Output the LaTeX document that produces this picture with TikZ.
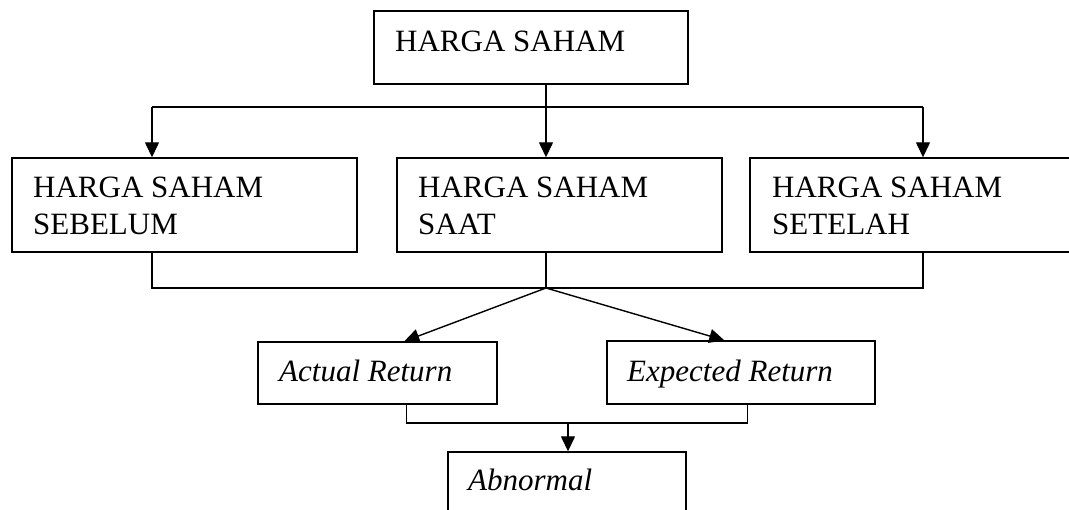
\documentclass[tikz,border=0pt]{standalone}
\usepackage{fontspec}
\setmainfont{Liberation Serif}
\usetikzlibrary{arrows.meta,calc}
\begin{document}
\begin{tikzpicture}[x=1pt,y=-1pt,
  box/.style={draw=black,line width=1.4pt,inner sep=0pt,rectangle},
  txt/.style={anchor=base west,inner sep=0pt,font=\fontsize{31}{37}\selectfont},
  itxt/.style={anchor=base west,inner sep=0pt,font=\fontsize{31}{37}\selectfont\itshape},
  conn/.style={line width=1.4pt},
  arr/.style={conn,-{Triangle[length=15pt,width=14pt]}}]
\useasboundingbox (0,0) rectangle (1069,510);

% boxes
\node[box,minimum width=314pt,minimum height=73pt] (top) at (531,47.5) {};
\node[box,minimum width=345pt,minimum height=94pt] (sebelum) at (184.5,205) {};
\node[box,minimum width=325pt,minimum height=94pt] (saat) at (559.5,205) {};
\node[box,minimum width=345pt,minimum height=94pt] (setelah) at (922.5,205) {};
\node[box,minimum width=239pt,minimum height=62pt] (actual) at (377.5,373) {};
\node[box,minimum width=268pt,minimum height=63pt] (expected) at (741,372.5) {};
\node[box,minimum width=238pt,minimum height=70pt] (abnormal) at (567,487) {};

% texts
\node[txt] (ttop) at (395,52) {HARGA SAHAM};
\node[txt] (tseb1) at (33,198) {HARGA SAHAM};
\node[txt] (tseb2) at (33,235) {SEBELUM};
\node[txt] (tsaa1) at (418,198) {HARGA SAHAM};
\node[txt] (tsaa2) at (418,235) {SAAT};
\node[txt] (tset1) at (772,198) {HARGA SAHAM};
\node[txt] (tset2) at (772,235) {SETELAH};
\node[itxt] (tact) at (279,382) {Actual Return};
\node[itxt] (texp) at (627,382) {Expected Return};
\node[itxt] (tabn) at (468,491) {Abnormal};

% upper distribution
\coordinate (hL) at (152,107);
\coordinate (hC) at (546,107);
\coordinate (hR) at (923,107);
\draw[conn] (top.south -| hC) -- (hC);
\draw[conn] (hL) -- (hR);
\draw[arr] (hL) -- (hL |- sebelum.north);
\draw[arr] (hC) -- (hC |- saat.north);
\draw[arr] (hR) -- (hR |- setelah.north);

% lower collection
\coordinate (gL) at (152,288);
\coordinate (gC) at (546,288);
\coordinate (gR) at (923,288);
\draw[conn] (sebelum.south -| gL) -- (gL) -- (gR) -- (setelah.south -| gR);
\draw[conn] (saat.south -| gC) -- (gC);
\coordinate (aTip) at ($(actual.north west)+(147,0)$);
\coordinate (eTip) at ($(expected.north west)+(118,0)$);
\draw[arr] (gC) -- (aTip);
\draw[arr] (gC) -- (eTip);

% return collection
\coordinate (ka) at ($(actual.south west)+(149,0)$);
\coordinate (ke) at ($(expected.south west)+(141,0)$);
\coordinate (kL) at (ka |- 0,423);
\coordinate (kR) at (ke |- 0,423);
\coordinate (kM) at (568,423);
\draw[conn] (ka) -- (kL) -- (kR) -- (ke);
\draw[arr] (kM) -- (kM |- abnormal.north);
\end{tikzpicture}
\end{document}
